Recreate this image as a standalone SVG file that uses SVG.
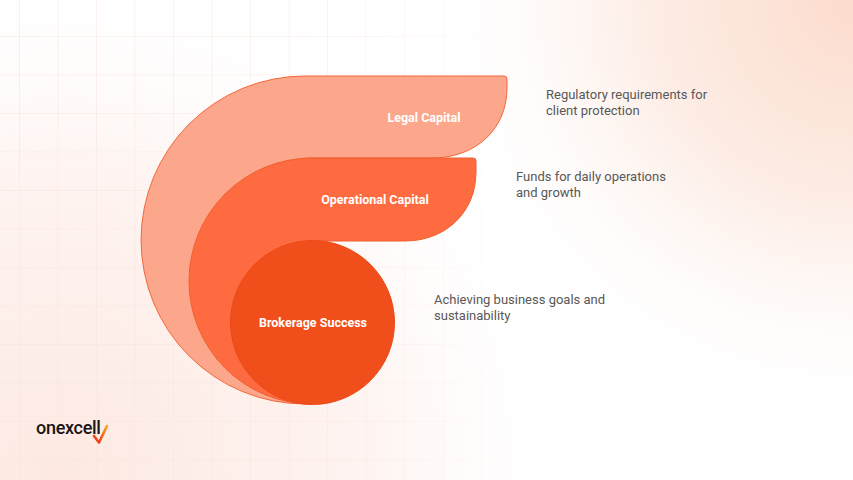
<svg xmlns="http://www.w3.org/2000/svg" width="853" height="480" viewBox="0 0 853 480">
  <defs>
    <radialGradient id="bgTR" cx="853" cy="0" r="430" gradientUnits="userSpaceOnUse">
      <stop offset="0" stop-color="#fcdccd"/>
      <stop offset="0.5" stop-color="#fdeee7"/>
      <stop offset="1" stop-color="#ffffff" stop-opacity="0"/>
    </radialGradient>
    <radialGradient id="bgBL" cx="60" cy="480" r="520" gradientUnits="userSpaceOnUse">
      <stop offset="0" stop-color="#fde9e2"/>
      <stop offset="0.6" stop-color="#fef4f1"/>
      <stop offset="1" stop-color="#ffffff" stop-opacity="0"/>
    </radialGradient>
    <linearGradient id="gridFade" x1="0" y1="0" x2="520" y2="0" gradientUnits="userSpaceOnUse">
      <stop offset="0" stop-color="#fff" stop-opacity="1"/>
      <stop offset="0.7" stop-color="#fff" stop-opacity="0.7"/>
      <stop offset="1" stop-color="#fff" stop-opacity="0"/>
    </linearGradient>
    <mask id="gridMask">
      <rect x="0" y="0" width="853" height="480" fill="url(#gridFade)"/>
    </mask>
    <pattern id="grid" x="19" y="36" width="38.5" height="38.5" patternUnits="userSpaceOnUse">
      <path d="M 0 0 V 38.5 M 0 0 H 38.5" fill="none" stroke="#f9e4de" stroke-width="1.2"/>
    </pattern>
    <linearGradient id="check" x1="93" y1="440" x2="108" y2="425" gradientUnits="userSpaceOnUse">
      <stop offset="0" stop-color="#ea3d1c"/>
      <stop offset="0.45" stop-color="#f2611d"/>
      <stop offset="1" stop-color="#f8b21e"/>
    </linearGradient>
  </defs>
  <style>
    .lbl { font-family: Roboto, "Liberation Sans", sans-serif; font-weight: 700; font-size: 12.5px; fill: #ffffff; text-anchor: middle; }
    .desc { font-family: Roboto, "Liberation Sans", sans-serif; font-weight: 400; font-size: 13px; fill: #585858; }
    .shape { stroke-width: 1; stroke-linejoin: round; }
  </style>

  <!-- background -->
  <rect x="0" y="0" width="853" height="480" fill="#ffffff"/>
  <rect x="0" y="0" width="853" height="480" fill="url(#bgBL)"/>
  <rect x="0" y="0" width="853" height="480" fill="url(#bgTR)"/>
  <rect x="0" y="0" width="853" height="480" fill="url(#grid)" mask="url(#gridMask)"/>

  <g id="connectors"/>

  <g id="node-legal">
    <path class="shape" d="M 305 404 A 164 164 0 0 1 305 76 H 504 Q 507 76 507 79 V 88 C 507 128 477 158 432 158 H 305 Z" fill="#fca78b" stroke="#f2683a"/>
    <text class="lbl" x="424" y="121.5">Legal Capital</text>
    <text class="desc" x="546" y="98.5">Regulatory requirements for</text>
    <text class="desc" x="546" y="114.5">client protection</text>
  </g>

  <g id="node-operational">
    <path class="shape" d="M 312 404 A 123 123 0 0 1 312 158 H 473 Q 476 158 476 161 V 172 C 476 212 446 241 405 241 H 312 Z" fill="#ff6b40" stroke="#f05f30"/>
    <text class="lbl" x="375" y="203.5">Operational Capital</text>
    <text class="desc" x="516" y="180.5">Funds for daily operations</text>
    <text class="desc" x="516" y="196.5">and growth</text>
  </g>

  <g id="node-brokerage">
    <circle class="shape" cx="312.5" cy="322.5" r="82" fill="#f04f1b" stroke="#ec4a17"/>
    <text class="lbl" x="313" y="327">Brokerage Success</text>
    <text class="desc" x="434" y="304">Achieving business goals and</text>
    <text class="desc" x="434" y="320">sustainability</text>
  </g>

  <g id="logo">
    <text x="36" y="434" font-family="Roboto, 'Liberation Sans', sans-serif" font-weight="500" font-size="18" fill="#1b1414" letter-spacing="-0.3">onexcell</text>
    <path d="M 94 436 L 99 442.5 L 107 426" fill="none" stroke="url(#check)" stroke-width="2.6" stroke-linecap="round" stroke-linejoin="round"/>
  </g>
</svg>
